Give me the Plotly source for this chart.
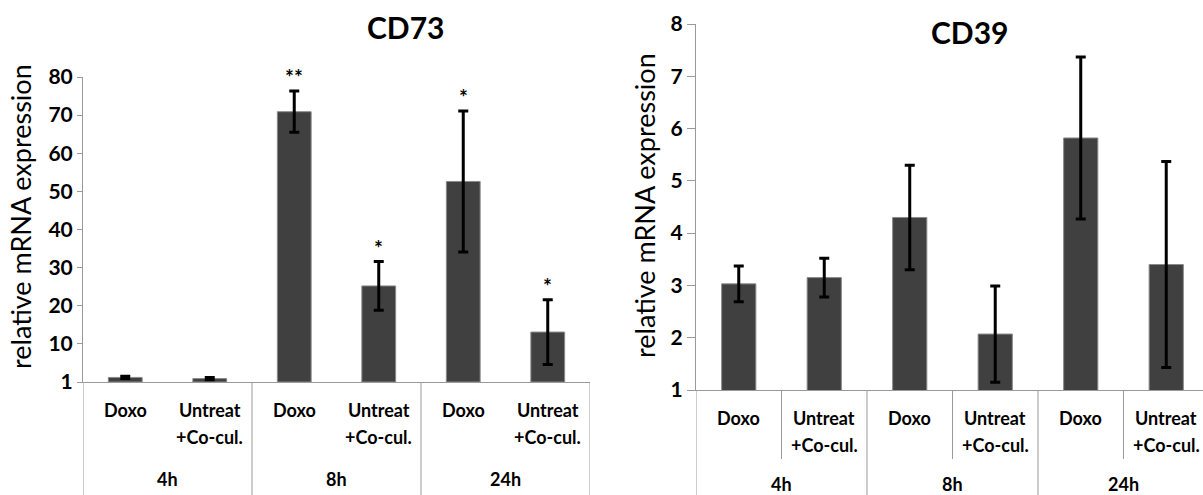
import plotly.graph_objects as go

# ---- data -------------------------------------------------------------
time_points = ["4h", "8h", "24h"]
treatments = ["Doxo", "Untreat", "Doxo", "Untreat", "Doxo", "Untreat"]
treat_sub = ["", "+Co-cul.", "", "+Co-cul.", "", "+Co-cul."]

cd73_mean = [1.2, 0.9, 70.9, 25.2, 52.6, 13.1]
cd73_err = [0.3, 0.3, 5.4, 6.4, 18.5, 8.5]
cd73_sig = ["", "", "**", "*", "*", "*"]
cd73_tickvals = [0, 10, 20, 30, 40, 50, 60, 70, 80]
cd73_ticktext = ["1", "10", "20", "30", "40", "50", "60", "70", "80"]

cd39_mean = [3.03, 3.15, 4.30, 2.07, 5.82, 3.40]
cd39_err = [0.34, 0.37, 1.00, 0.92, 1.55, 1.97]
cd39_tickvals = [1, 2, 3, 4, 5, 6, 7, 8]

# ---- figure -----------------------------------------------------------
W, H = 1203, 495
FONT = "Lato"
AXIS_GREY = "#9a9a9a"


def fx(px):
    return px / W


def fy(py):
    return 1 - py / H


x_pos = list(range(len(treatments)))

fig = go.Figure()

bar_style = dict(color="#404040", line=dict(color="#8a8a8a", width=1))
err_style = dict(type="data", color="black", thickness=3, width=5)

fig.add_trace(go.Bar(x=x_pos, y=cd73_mean, width=0.4, marker=bar_style,
                     error_y=dict(array=cd73_err, **err_style),
                     xaxis="x", yaxis="y", showlegend=False, hoverinfo="y"))
fig.add_trace(go.Bar(x=x_pos, y=cd39_mean, width=0.4, marker=bar_style,
                     error_y=dict(array=cd39_err, **err_style),
                     xaxis="x2", yaxis="y2", showlegend=False, hoverinfo="y"))

tick_font = dict(family=FONT, size=21, color="black", weight="bold")
common_x = dict(showticklabels=False, ticks="", showgrid=False, zeroline=False,
                showline=True, linecolor=AXIS_GREY, linewidth=1, fixedrange=True,
                automargin=False)
common_y = dict(showgrid=False, zeroline=False, showline=True, linecolor=AXIS_GREY,
                linewidth=1, ticks="outside", tickcolor=AXIS_GREY, tickwidth=1,
                tickfont=tick_font, fixedrange=True, automargin=False)

# panel geometry (pixels)
L = dict(x0=83, x1=590, ybase=382, ytop=77, group_dy=97)
R = dict(x0=696, x1=1203, ybase=390, ytop=24, group_dy=94)

fig.update_layout(
    width=W, height=H,
    margin=dict(l=0, r=0, t=0, b=0, pad=0, autoexpand=False),
    plot_bgcolor="white", paper_bgcolor="white",
    bargap=0.6,
    xaxis=dict(domain=[fx(L["x0"]), fx(L["x1"])], range=[-0.5, 5.5], anchor="y", **common_x),
    yaxis=dict(domain=[fy(L["ybase"]), fy(L["ytop"])], range=[0, 80], anchor="x",
               tickvals=cd73_tickvals, ticktext=cd73_ticktext, ticklen=5, **common_y),
    xaxis2=dict(domain=[fx(R["x0"]), 1], range=[-0.5, 5.43], anchor="y2", **common_x),
    yaxis2=dict(domain=[fy(R["ybase"]), fy(R["ytop"])], range=[1, 8], anchor="x2",
                tickvals=cd39_tickvals, ticklen=8, **common_y),
)

shapes = []
annotations = []


def vline(xref, x, y_top_px, y_bot_px):
    shapes.append(dict(type="line", xref=xref, yref="paper", x0=x, x1=x,
                       y0=fy(y_bot_px), y1=fy(y_top_px),
                       line=dict(color=AXIS_GREY, width=1)))


label_font = dict(family=FONT, size=18, color="black", weight="bold")

for xref, panel, dividers, short_divs in (
    ("x", L, [-0.5, 1.5, 3.5, 5.5], []),
    ("x2", R, [-0.5, 1.5, 3.5], [0.5, 2.5, 4.5]),
):
    yb = panel["ybase"]
    for d in dividers:
        vline(xref, d, yb, H)
    for d in short_divs:
        vline(xref, d, yb, yb + 69)
    for i in x_pos:
        annotations.append(dict(xref=xref, yref="paper", x=i, y=fy(yb + 28),
                                text=treatments[i], showarrow=False,
                                font=label_font, xanchor="center", yanchor="middle"))
        if treat_sub[i]:
            annotations.append(dict(xref=xref, yref="paper", x=i, y=fy(yb + 55),
                                    text=treat_sub[i], showarrow=False,
                                    font=label_font, xanchor="center", yanchor="middle"))
    for g, name in enumerate(time_points):
        annotations.append(dict(xref=xref, yref="paper", x=2 * g + 0.5,
                                y=fy(yb + panel["group_dy"]),
                                text=name, showarrow=False, font=label_font,
                                xanchor="center", yanchor="middle"))

# significance marks above the CD73 error bars
for i, s in enumerate(cd73_sig):
    if s:
        annotations.append(dict(xref="x", yref="y", x=i, y=cd73_mean[i] + cd73_err[i],
                                text=s, showarrow=False, yanchor="bottom", yshift=0,
                                font=dict(family=FONT, size=21, color="black", weight="bold")))

# panel titles
title_font = dict(family=FONT, size=30, color="black", weight="bold")
annotations.append(dict(xref="paper", yref="paper", x=fx(405), y=fy(27), text="CD73",
                        showarrow=False, font=title_font, xanchor="center", yanchor="middle"))
annotations.append(dict(xref="paper", yref="paper", x=fx(969), y=fy(32), text="CD39",
                        showarrow=False, font=title_font, xanchor="center", yanchor="middle"))

# y-axis titles
ytitle_font = dict(family=FONT, size=27, color="black")
annotations.append(dict(xref="paper", yref="paper", x=fx(21), y=fy(217),
                        text="relative mRNA expression", textangle=-90, showarrow=False,
                        font=ytitle_font, xanchor="center", yanchor="middle"))
annotations.append(dict(xref="paper", yref="paper", x=fx(644), y=fy(206),
                        text="relative mRNA expression", textangle=-90, showarrow=False,
                        font=ytitle_font, xanchor="center", yanchor="middle"))

fig.update_layout(shapes=shapes, annotations=annotations)

fig.write_html("out.html")
